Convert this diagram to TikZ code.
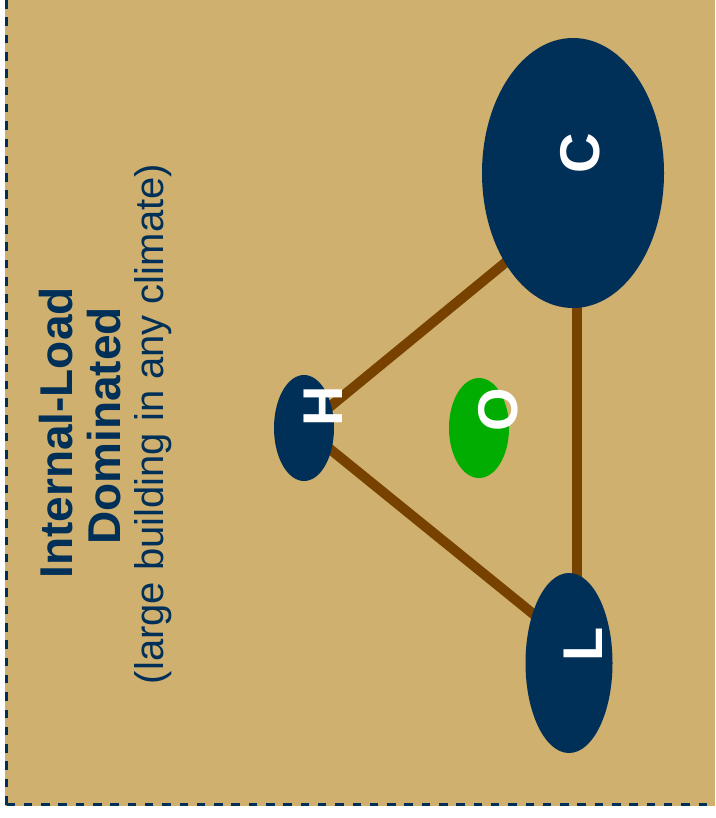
\documentclass[tikz,border=0pt]{standalone}
\usepackage{fontspec}
\setmainfont{Liberation Sans}
\usetikzlibrary{shapes.geometric,backgrounds}
\definecolor{navy}{HTML}{002F58}
\definecolor{sand}{HTML}{CFB06F}
\definecolor{bark}{HTML}{774200}
\definecolor{leaf}{HTML}{00AD00}

\begin{document}
\begin{tikzpicture}[x=1pt,y=-1pt,
  lobe/.style={ellipse,fill=navy,inner sep=0pt},
  tie/.style={draw=bark,line width=10pt},
  tag/.style={rotate=90,anchor=base,inner sep=0pt,text=white,font=\bfseries\fontsize{56}{56}\selectfont},
  heading/.style={rotate=90,anchor=base,text=navy,font=\bfseries\fontsize{46}{48}\selectfont}]
\useasboundingbox (0,0) rectangle (715,818);
\clip (0,0) rectangle (715,818);
% load ellipses
\node[lobe,minimum width=182pt,minimum height=270pt] (C) at (573,173) {};
\node[lobe,minimum width=60pt,minimum height=106pt] (H) at (304,428) {};
\node[lobe,minimum width=87pt,minimum height=180pt] (L) at (569,663) {};
\node[lobe,fill=leaf,minimum width=60pt,minimum height=100pt] (O) at (479,428) {};
\node[tag] (Ctag) at (599,153) {C};
\node[tag] (Htag) at (342,406) {H};
\node[tag] (Ltag) at (602,644) {L};
\node[tag] (Otag) at (517,410) {O};
% caption
\node[heading] (title) at (72,433) {Internal-Load};
\node[heading] (title2) at (120,426) {Dominated};
\node[rotate=90,anchor=base,text=navy,font=\fontsize{40}{42}\selectfont] (note) at (163,424) {(large building in any climate)};
\begin{scope}[on background layer]
\fill[sand] (5,0) rectangle (715,806);
\draw[navy,line width=3pt,dash pattern=on 8.5pt off 8.8pt] (6.5,804.5) -- (6.5,0);
\draw[navy,line width=3pt,dash pattern=on 8.5pt off 8.8pt] (6.5,804.5) -- (715,804.5);
\draw[tie] (H.center) -- ([yshift=-34pt]C.center);
\draw[tie] (H.center) -- ([yshift=20pt]L.center);
\draw[tie] ([xshift=4pt]C.center) -- ([xshift=8pt]L.center);
\end{scope}
\end{tikzpicture}
\end{document}
